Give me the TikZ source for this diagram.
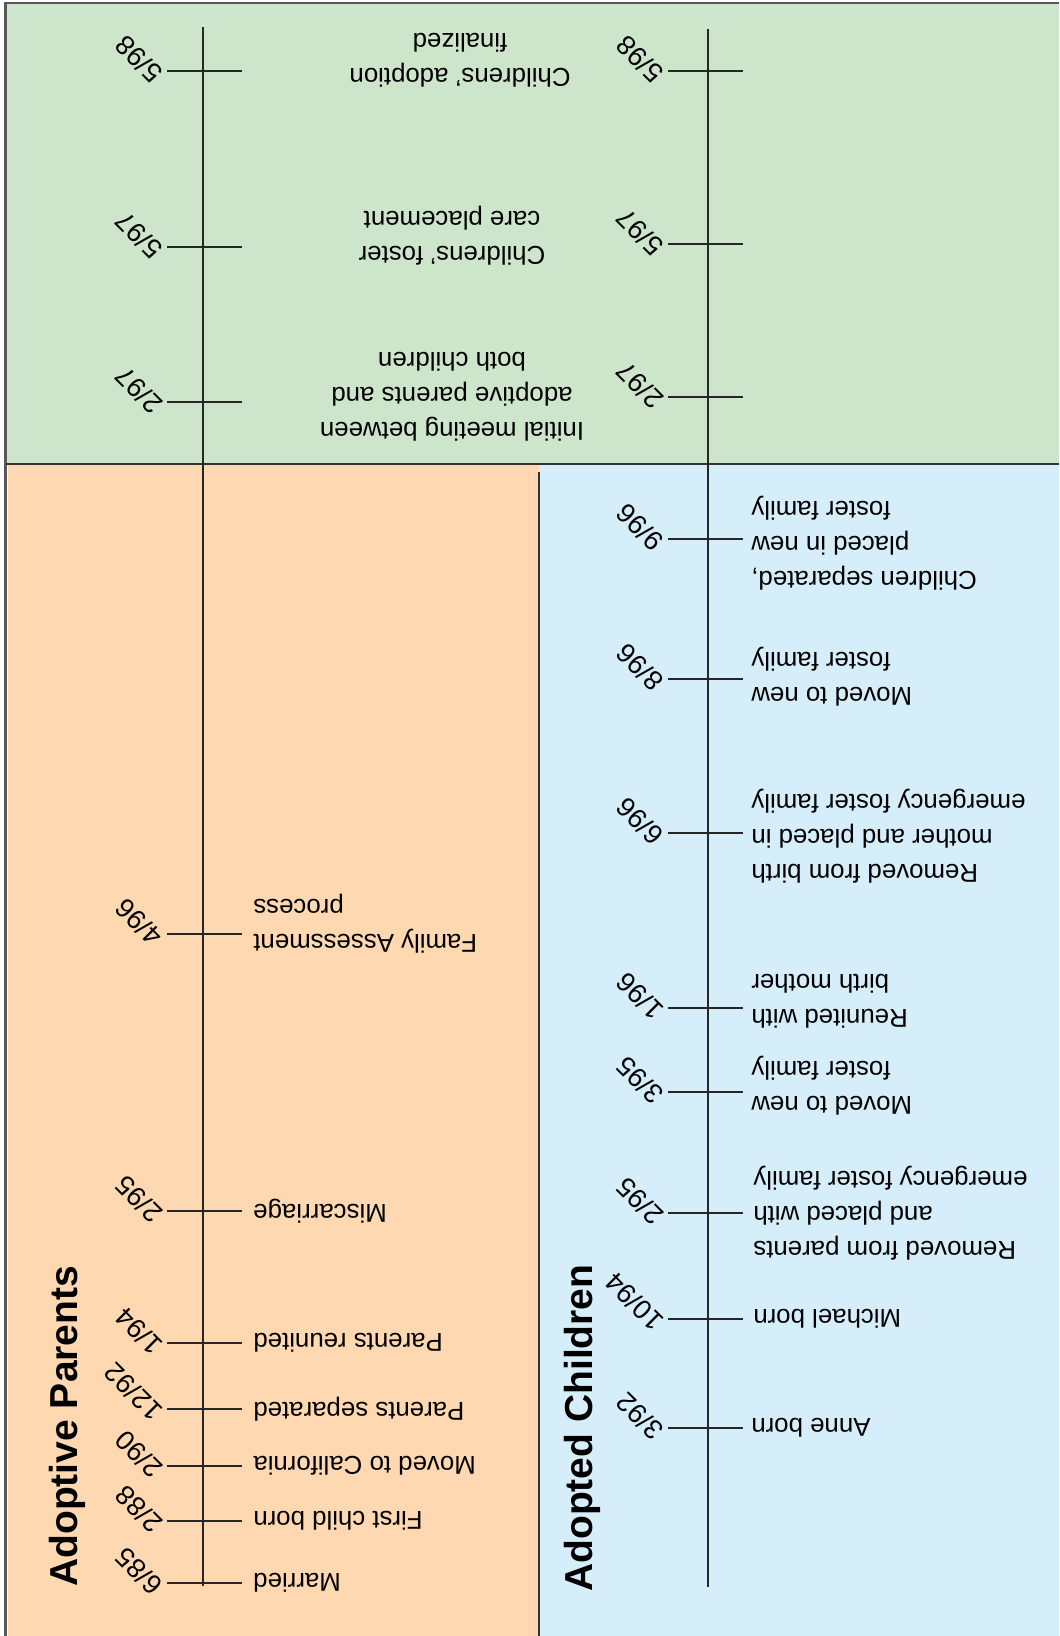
\documentclass[tikz,border=0pt]{standalone}
\usepackage{fontspec}
\setmainfont{Liberation Sans}
\definecolor{jointgreen}{RGB}{205,230,203}
\definecolor{parentpeach}{RGB}{254,216,176}
\definecolor{childblue}{RGB}{214,237,250}
\definecolor{framegray}{RGB}{88,88,88}
\begin{document}
\begin{tikzpicture}[x=0.02cm,y=-0.02cm,
    date/.style={rotate=135,anchor=south west,inner sep=0.5pt,font=\fontsize{15.5}{17}\selectfont},
    event/.style={rotate=180,anchor=east,inner sep=0pt,align=right,font=\fontsize{14.7}{19.9}\selectfont},
    joint/.style={rotate=180,inner sep=0pt,align=center,font=\fontsize{14.7}{19.9}\selectfont},
    lane/.style={rotate=90,anchor=base west,inner sep=0pt,font=\bfseries\fontsize{22.2}{26}\selectfont},
    timeline/.style={draw=black!85,line width=0.8pt},
    tickline/.style={draw=black!85,line width=1.1pt},
  ]
  \useasboundingbox (0,0) rectangle (1059,1636);
  % panels
  \fill[jointgreen] (6,3) rectangle (1059,464);
  \fill[parentpeach] (8,464) rectangle (539,1636);
  \fill[childblue] (539,464) rectangle (1059,1636);
  \draw[framegray,line width=1.5pt] (5.5,1636) -- (5.5,3) -- (1059,3);
  \draw[black!80,line width=1.6pt] (5.5,464) -- (1059,464);
  \draw[black!80,line width=0.9pt] (539,472) -- (539,1636);
  % lane titles
  \node[lane] (ptitle) at (77,1587) {Adoptive Parents};
  \node[lane] (ctitle) at (592,1592) {Adopted Children};
  % adoptive parents
  \coordinate (ptop) at (203,27);
  \coordinate (pbot) at (203,1586);
  \draw[timeline] (ptop) -- (pbot);
  \draw[tickline] (167,1583) node[date] (p85) {6/85} -- ++(75,0);
  \node[event] (p85e) at (253,1583) {Married};
  \draw[tickline] (167,1521) node[date] (p88) {2/88} -- ++(75,0);
  \node[event] (p88e) at (253,1521) {First child born};
  \draw[tickline] (167,1466) node[date] (p90) {2/90} -- ++(75,0);
  \node[event] (p90e) at (253,1466) {Moved to California};
  \draw[tickline] (167,1409) node[date] (p92) {12/92} -- ++(75,0);
  \node[event] (p92e) at (253,1409) {Parents separated};
  \draw[tickline] (167,1343) node[date] (p94) {1/94} -- ++(75,0);
  \node[event] (p94e) at (253,1343) {Parents reunited};
  \draw[tickline] (167,1211) node[date] (p95) {2/95} -- ++(75,0);
  \node[event] (p95e) at (253,1211) {Miscarriage};
  \draw[tickline] (167,934) node[date] (p96) {4/96} -- ++(75,0);
  \node[event] (p96e) at (253,924) {Family Assessment\\process};
  \draw[tickline] (167,402) node[date] (p97a) {2/97} -- ++(75,0);
  \draw[tickline] (167,247) node[date] (p97b) {5/97} -- ++(75,0);
  \draw[tickline] (167,71) node[date] (p98) {5/98} -- ++(75,0);
  % adopted children
  \coordinate (ctop) at (708,29);
  \coordinate (cbot) at (708,1587);
  \draw[timeline] (ctop) -- (cbot);
  \draw[tickline] (668,1428) node[date] (c92) {3/92} -- ++(75,0);
  \node[event] (c92e) at (751,1428) {Anne born};
  \draw[tickline] (668,1319) node[date] (c94) {10/94} -- ++(75,0);
  \node[event] (c94e) at (753,1319) {Michael born};
  \draw[tickline] (668,1213) node[date] (c95a) {2/95} -- ++(75,0);
  \node[event] (c95ae) at (753,1213) {Removed from parents\\and placed with\\emergency foster family};
  \draw[tickline] (668,1092) node[date] (c95b) {3/95} -- ++(75,0);
  \node[event] (c95be) at (751,1086) {Moved to new\\foster family};
  \draw[tickline] (668,1008) node[date] (c96a) {1/96} -- ++(75,0);
  \node[event] (c96ae) at (751,1001) {Reunited with\\birth mother};
  \draw[tickline] (668,833) node[date] (c96b) {6/96} -- ++(75,0);
  \node[event] (c96be) at (751,836) {Removed from birth\\mother and placed in\\emergency foster family};
  \draw[tickline] (668,679) node[date] (c96c) {8/96} -- ++(75,0);
  \node[event] (c96ce) at (751,677) {Moved to new\\foster family};
  \draw[tickline] (668,539) node[date] (c96d) {9/96} -- ++(75,0);
  \node[event] (c96de) at (751,543) {Children separated,\\placed in new\\foster family};
  \draw[tickline] (668,397) node[date] (c97a) {2/97} -- ++(75,0);
  \draw[tickline] (668,244) node[date] (c97b) {5/97} -- ++(75,0);
  \draw[tickline] (668,71) node[date] (c98) {5/98} -- ++(75,0);
  % joint events
  \node[joint] (meet) at (452,397) {Initial meeting between\\adoptive parents and\\both children};
  \node[joint] (foster) at (452,236) {Childrens' foster\\care placement};
  \node[joint] (final) at (460,60) {Childrens' adoption\\finalized};
\end{tikzpicture}
\end{document}
